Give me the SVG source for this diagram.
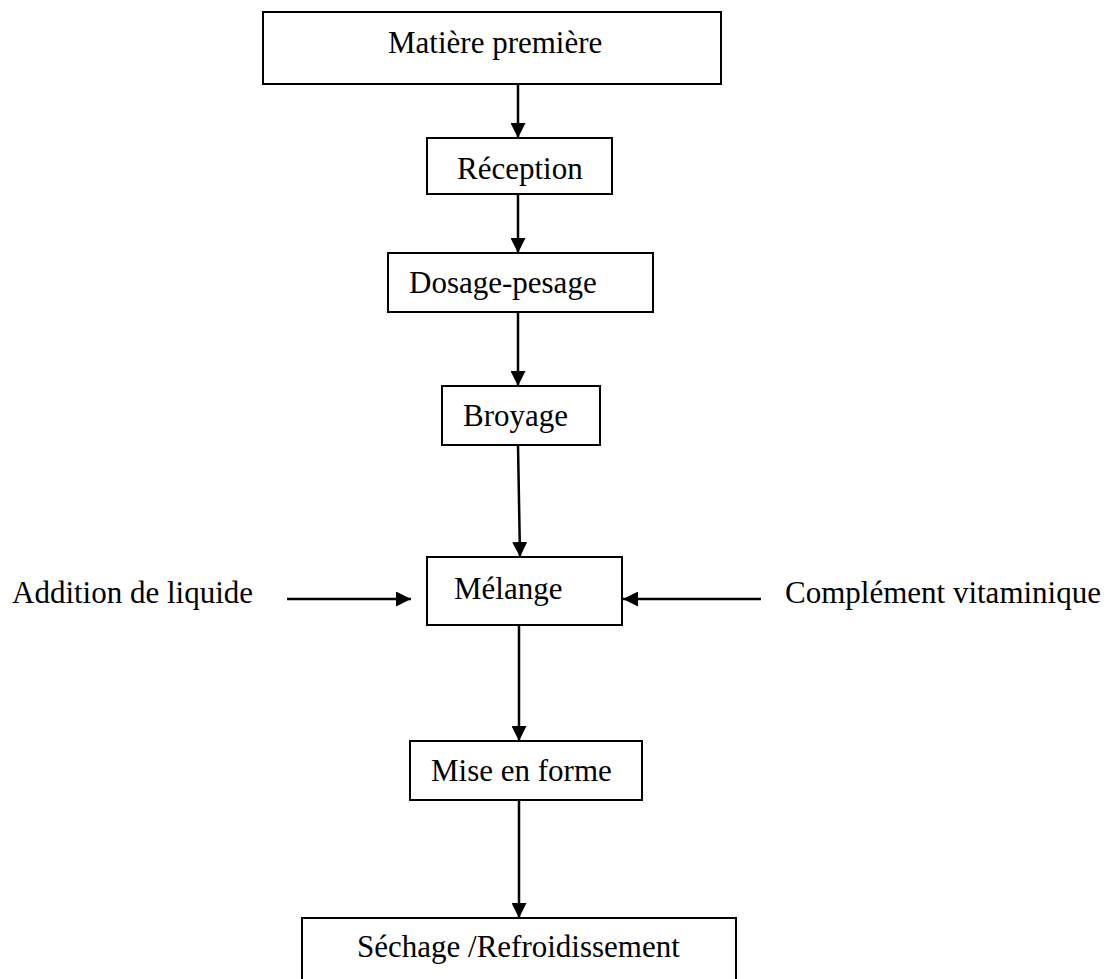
<svg xmlns="http://www.w3.org/2000/svg" width="1111" height="979" viewBox="0 0 1111 979">
<style>
.box{fill:#fff;stroke:#000;stroke-width:2}
.t{font-family:"Liberation Serif","Times New Roman",serif;font-size:31px;fill:#000}
.c{stroke:#000;stroke-width:2.5;fill:none}
</style>
<defs>
<marker id="ah" viewBox="0 0 10 10" refX="10" refY="5" markerWidth="15" markerHeight="15" markerUnits="userSpaceOnUse" orient="auto">
<path d="M0,0 L10,5 L0,10 Z" fill="#000"/>
</marker>
</defs>
<rect width="1111" height="979" fill="#fff"/>
<g id="connectors">
<line class="c" x1="518" y1="84" x2="518" y2="138" marker-end="url(#ah)"/>
<line class="c" x1="518" y1="194" x2="518" y2="253" marker-end="url(#ah)"/>
<line class="c" x1="518" y1="312" x2="518" y2="386" marker-end="url(#ah)"/>
<line class="c" x1="518" y1="445" x2="520" y2="557" marker-end="url(#ah)"/>
<line class="c" x1="287" y1="599" x2="411" y2="599" marker-end="url(#ah)"/>
<line class="c" x1="761" y1="599" x2="623" y2="599" marker-end="url(#ah)"/>
<line class="c" x1="519" y1="625" x2="519" y2="741" marker-end="url(#ah)"/>
<line class="c" x1="519" y1="800" x2="519" y2="918" marker-end="url(#ah)"/>
</g>
<g id="n-matiere"><rect class="box" x="263" y="12" width="458" height="72"/><text class="t" x="388" y="53">Matière première</text></g>
<g id="n-reception"><rect class="box" x="427" y="138" width="185" height="56"/><text class="t" x="457" y="179">Réception</text></g>
<g id="n-dosage"><rect class="box" x="388" y="253" width="265" height="59"/><text class="t" x="409" y="293">Dosage-pesage</text></g>
<g id="n-broyage"><rect class="box" x="442" y="386" width="158" height="59"/><text class="t" x="463" y="426">Broyage</text></g>
<g id="n-melange"><rect class="box" x="427" y="557" width="195" height="68"/><text class="t" x="454" y="599">Mélange</text></g>
<g id="n-addition"><text class="t" x="12" y="603">Addition de liquide</text></g>
<g id="n-complement"><text class="t" x="785" y="603">Complément vitaminique</text></g>
<g id="n-mise"><rect class="box" x="410" y="741" width="232" height="59"/><text class="t" x="431" y="781">Mise en forme</text></g>
<g id="n-sechage"><rect class="box" x="302" y="918" width="434" height="70"/><text class="t" x="357" y="957">Séchage /Refroidissement</text></g>
</svg>
